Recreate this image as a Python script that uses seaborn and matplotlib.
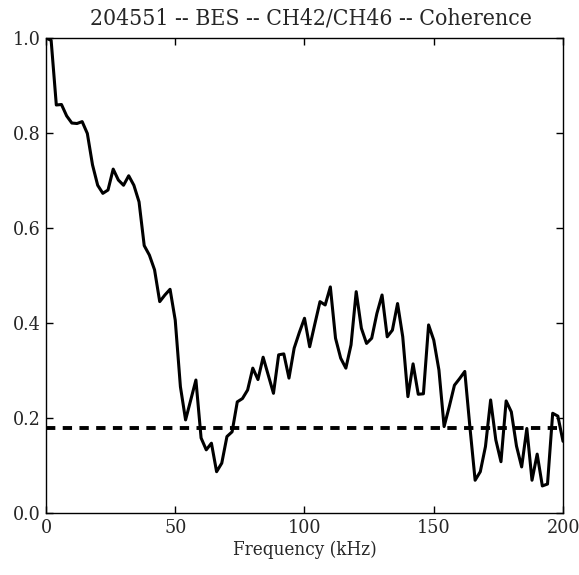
import numpy as np
import pandas as pd
import matplotlib
matplotlib.use("Agg")
import matplotlib.pyplot as plt
import seaborn as sns

# BES channel pair coherence spectrum
plot_title = "204551 -- BES -- CH42/CH46 -- Coherence"
x_label = "Frequency (kHz)"
freq_step_khz = 2.0
coherence = [
    1.000, 0.995, 0.859, 0.860, 0.836, 0.821, 0.820, 0.824, 0.799, 0.733,
    0.690, 0.673, 0.680, 0.724, 0.701, 0.690, 0.710, 0.690, 0.655, 0.563,
    0.543, 0.512, 0.445, 0.459, 0.471, 0.406, 0.266, 0.196, 0.238, 0.280,
    0.158, 0.133, 0.147, 0.087, 0.105, 0.161, 0.171, 0.234, 0.241, 0.259,
    0.305, 0.281, 0.328, 0.290, 0.252, 0.333, 0.335, 0.284, 0.347, 0.380,
    0.410, 0.350, 0.398, 0.445, 0.438, 0.476, 0.368, 0.326, 0.305, 0.354,
    0.466, 0.389, 0.357, 0.368, 0.420, 0.459, 0.371, 0.385, 0.441, 0.371,
    0.245, 0.314, 0.250, 0.251, 0.396, 0.364, 0.301, 0.182, 0.224, 0.269,
    0.283, 0.298, 0.180, 0.069, 0.087, 0.140, 0.238, 0.154, 0.108, 0.236,
    0.213, 0.141, 0.097, 0.178, 0.069, 0.124, 0.057, 0.061, 0.210, 0.204,
    0.151,
]
significance_level = 0.178
x_ticks = [0, 50, 100, 150, 200]
y_ticks = [0.0, 0.2, 0.4, 0.6, 0.8, 1.0]

freq_khz = np.arange(len(coherence)) * freq_step_khz
data = pd.DataFrame({"freq": freq_khz, "coh": coherence})

sns.set_style("ticks")
plt.rcParams["font.family"] = ["DejaVu Serif"]
plt.rcParams["font.stretch"] = "condensed"
plt.rcParams["xtick.direction"] = "in"
plt.rcParams["ytick.direction"] = "in"

fig = plt.figure(figsize=(5.79, 5.75), dpi=100)
ax = fig.add_axes([0.0794, 0.1078, 0.8930, 0.8261])

sns.lineplot(data=data, x="freq", y="coh", color="black", linewidth=2.2, ax=ax)
ax.axhline(significance_level, color="black", linewidth=2.8,
           linestyle=(0, (2.4, 1.9)))

ax.set_xlim(x_ticks[0], x_ticks[-1])
ax.set_ylim(y_ticks[0], y_ticks[-1])
ax.set_xticks(x_ticks)
ax.set_yticks(y_ticks)
ax.set_xticklabels([str(t) for t in x_ticks])
ax.set_yticklabels([f"{t:.1f}" for t in y_ticks])
ax.tick_params(axis="both", which="major", direction="in", length=5,
               width=1, color="black", labelsize=14, pad=4,
               top=True, right=True)
for side in ["top", "bottom", "left", "right"]:
    ax.spines[side].set_visible(True)
    ax.spines[side].set_color("black")
    ax.spines[side].set_linewidth(1.0)

ax.set_xlabel(x_label, fontsize=13.5, labelpad=3)
ax.set_ylabel("")
ax.set_title(plot_title, fontsize=16.5, pad=10, x=0.512)

fig.savefig("out.png", dpi=100, facecolor="white")
